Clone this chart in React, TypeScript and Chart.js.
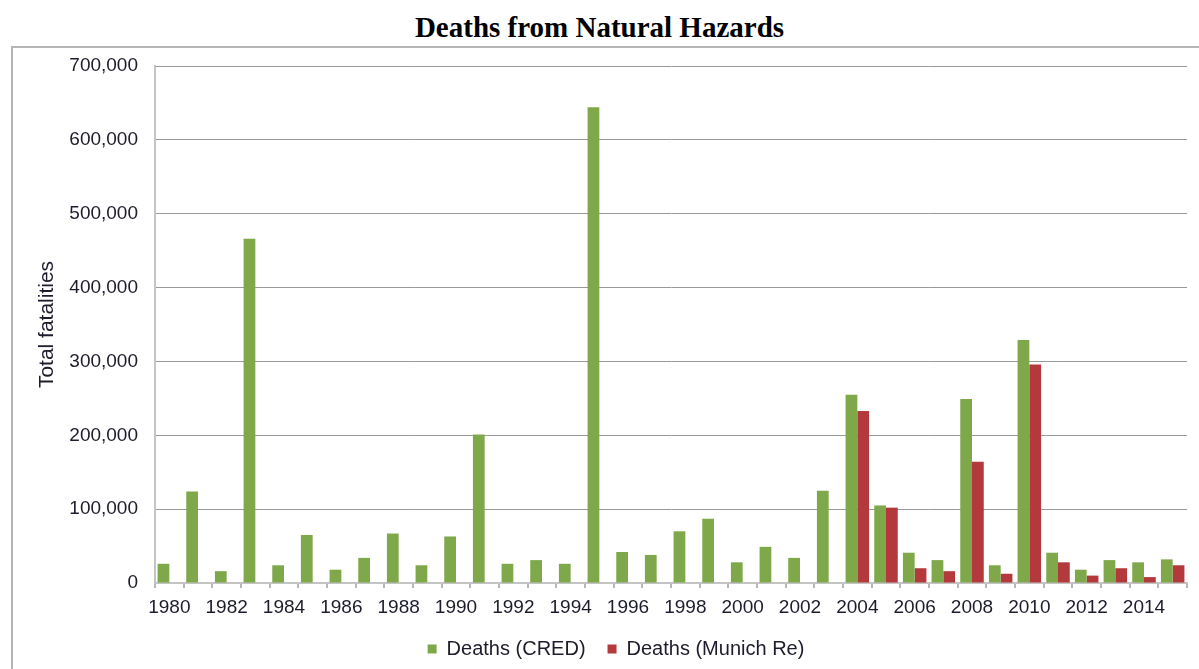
import React, { useEffect, useRef } from 'react';
import { Chart, registerables } from 'chart.js';

Chart.register(...registerables);

const years = [
  '1980', '1981', '1982', '1983', '1984', '1985', '1986', '1987', '1988', '1989',
  '1990', '1991', '1992', '1993', '1994', '1995', '1996', '1997', '1998', '1999',
  '2000', '2001', '2002', '2003', '2004', '2005', '2006', '2007', '2008', '2009',
  '2010', '2011', '2012', '2013', '2014', '2015',
];

const credDeaths = [
  26000, 124000, 16000, 466000, 24000, 65000, 18000, 34000, 67000, 24000,
  63000, 201000, 26000, 31000, 26000, 644000, 42000, 38000, 70000, 87000,
  28000, 49000, 34000, 125000, 255000, 105000, 41000, 31000, 249000, 24000,
  329000, 41000, 18000, 31000, 28000, 32000,
];

const munichReDeaths = [
  null, null, null, null, null, null, null, null, null, null,
  null, null, null, null, null, null, null, null, null, null,
  null, null, null, null, 233000, 102000, 20000, 16000, 164000, 12500,
  296000, 28000, 10000, 20000, 8000, 24000,
];

const seriesLabels = ['Deaths (CRED)', 'Deaths (Munich Re)'];
const chartTitle = 'Deaths from Natural Hazards';
const yAxisTitle = 'Total fatalities';

const sans = '"Liberation Sans", Arial, Helvetica, sans-serif';

export default function App() {
  const ref = useRef<HTMLCanvasElement | null>(null);

  useEffect(() => {
    if (!ref.current) return;
    const chart = new Chart(ref.current, {
      type: 'bar',
      data: {
        labels: years,
        datasets: [
          {
            label: seriesLabels[0],
            data: credDeaths,
            backgroundColor: '#7fa84b',
            borderWidth: 0,
            categoryPercentage: 0.82,
            barPercentage: 1,
          },
          {
            label: seriesLabels[1],
            data: munichReDeaths as any,
            backgroundColor: '#b3393d',
            borderWidth: 0,
            categoryPercentage: 0.82,
            barPercentage: 1,
          },
        ],
      },
      options: {
        animation: false,
        responsive: false,
        devicePixelRatio: 1,
        layout: { padding: { left: 45, right: 12, top: 66, bottom: 0 } },
        plugins: {
          title: { display: false },
          tooltip: { enabled: false },
          legend: {
            position: 'bottom',
            labels: {
              boxWidth: 9,
              boxHeight: 9,
              padding: 22,
              color: '#1c1c2c',
              font: { size: 20, family: sans },
            },
          },
        },
        scales: {
          x: {
            grid: {
              display: true,
              drawOnChartArea: false,
              drawTicks: true,
              tickLength: 5,
              color: '#b8b8b8',
              lineWidth: 2,
              offset: true,
            },
            border: { display: true, color: '#c4c4c4', width: 2 },
            ticks: {
              autoSkip: false,
              maxRotation: 0,
              minRotation: 0,
              padding: 8,
              color: '#1c1c2c',
              font: { size: 19, family: sans },
              callback: (_v: any, i: number) => (i % 2 === 0 ? years[i] : ''),
            },
            afterFit: (s: any) => {
              s.height = 34;
            },
          },
          y: {
            min: 0,
            max: 700000,
            ticks: {
              stepSize: 100000,
              padding: 17,
              color: '#1c1c2c',
              font: { size: 19, family: sans },
              callback: (v: any) => Number(v).toLocaleString('en-US'),
            },
            grid: { color: '#999999', lineWidth: 1, drawTicks: false },
            border: { display: true, color: '#c4c4c4', width: 2 },
            title: {
              display: true,
              text: yAxisTitle,
              color: '#1c1c2c',
              font: { size: 21, family: sans },
              padding: { top: -10.5, bottom: 0 },
            },
            afterFit: (s: any) => {
              s.width = 110;
            },
          },
        },
      },
    });
    return () => chart.destroy();
  }, []);

  return (
    <div style={{ position: 'absolute', left: 0, top: 0, width: 1199, height: 669, overflow: 'hidden', background: '#fff' }}>
      <div
        style={{
          position: 'absolute',
          left: 0,
          top: 13,
          width: 1199,
          textAlign: 'center',
          fontFamily: '"Liberation Serif", "Times New Roman", serif',
          fontWeight: 'bold',
          fontSize: 29,
          lineHeight: '29px',
          color: '#000',
        }}
      >
        {chartTitle}
      </div>
      <div
        style={{
          position: 'absolute',
          left: 11,
          top: 46,
          width: 1300,
          height: 700,
          borderTop: '2px solid #b4b4b4',
          borderLeft: '2px solid #b4b4b4',
        }}
      />
      <canvas
        ref={ref}
        width={1199}
        height={669}
        style={{ position: 'absolute', left: 0, top: 0, width: 1199, height: 669 }}
      />
    </div>
  );
}
